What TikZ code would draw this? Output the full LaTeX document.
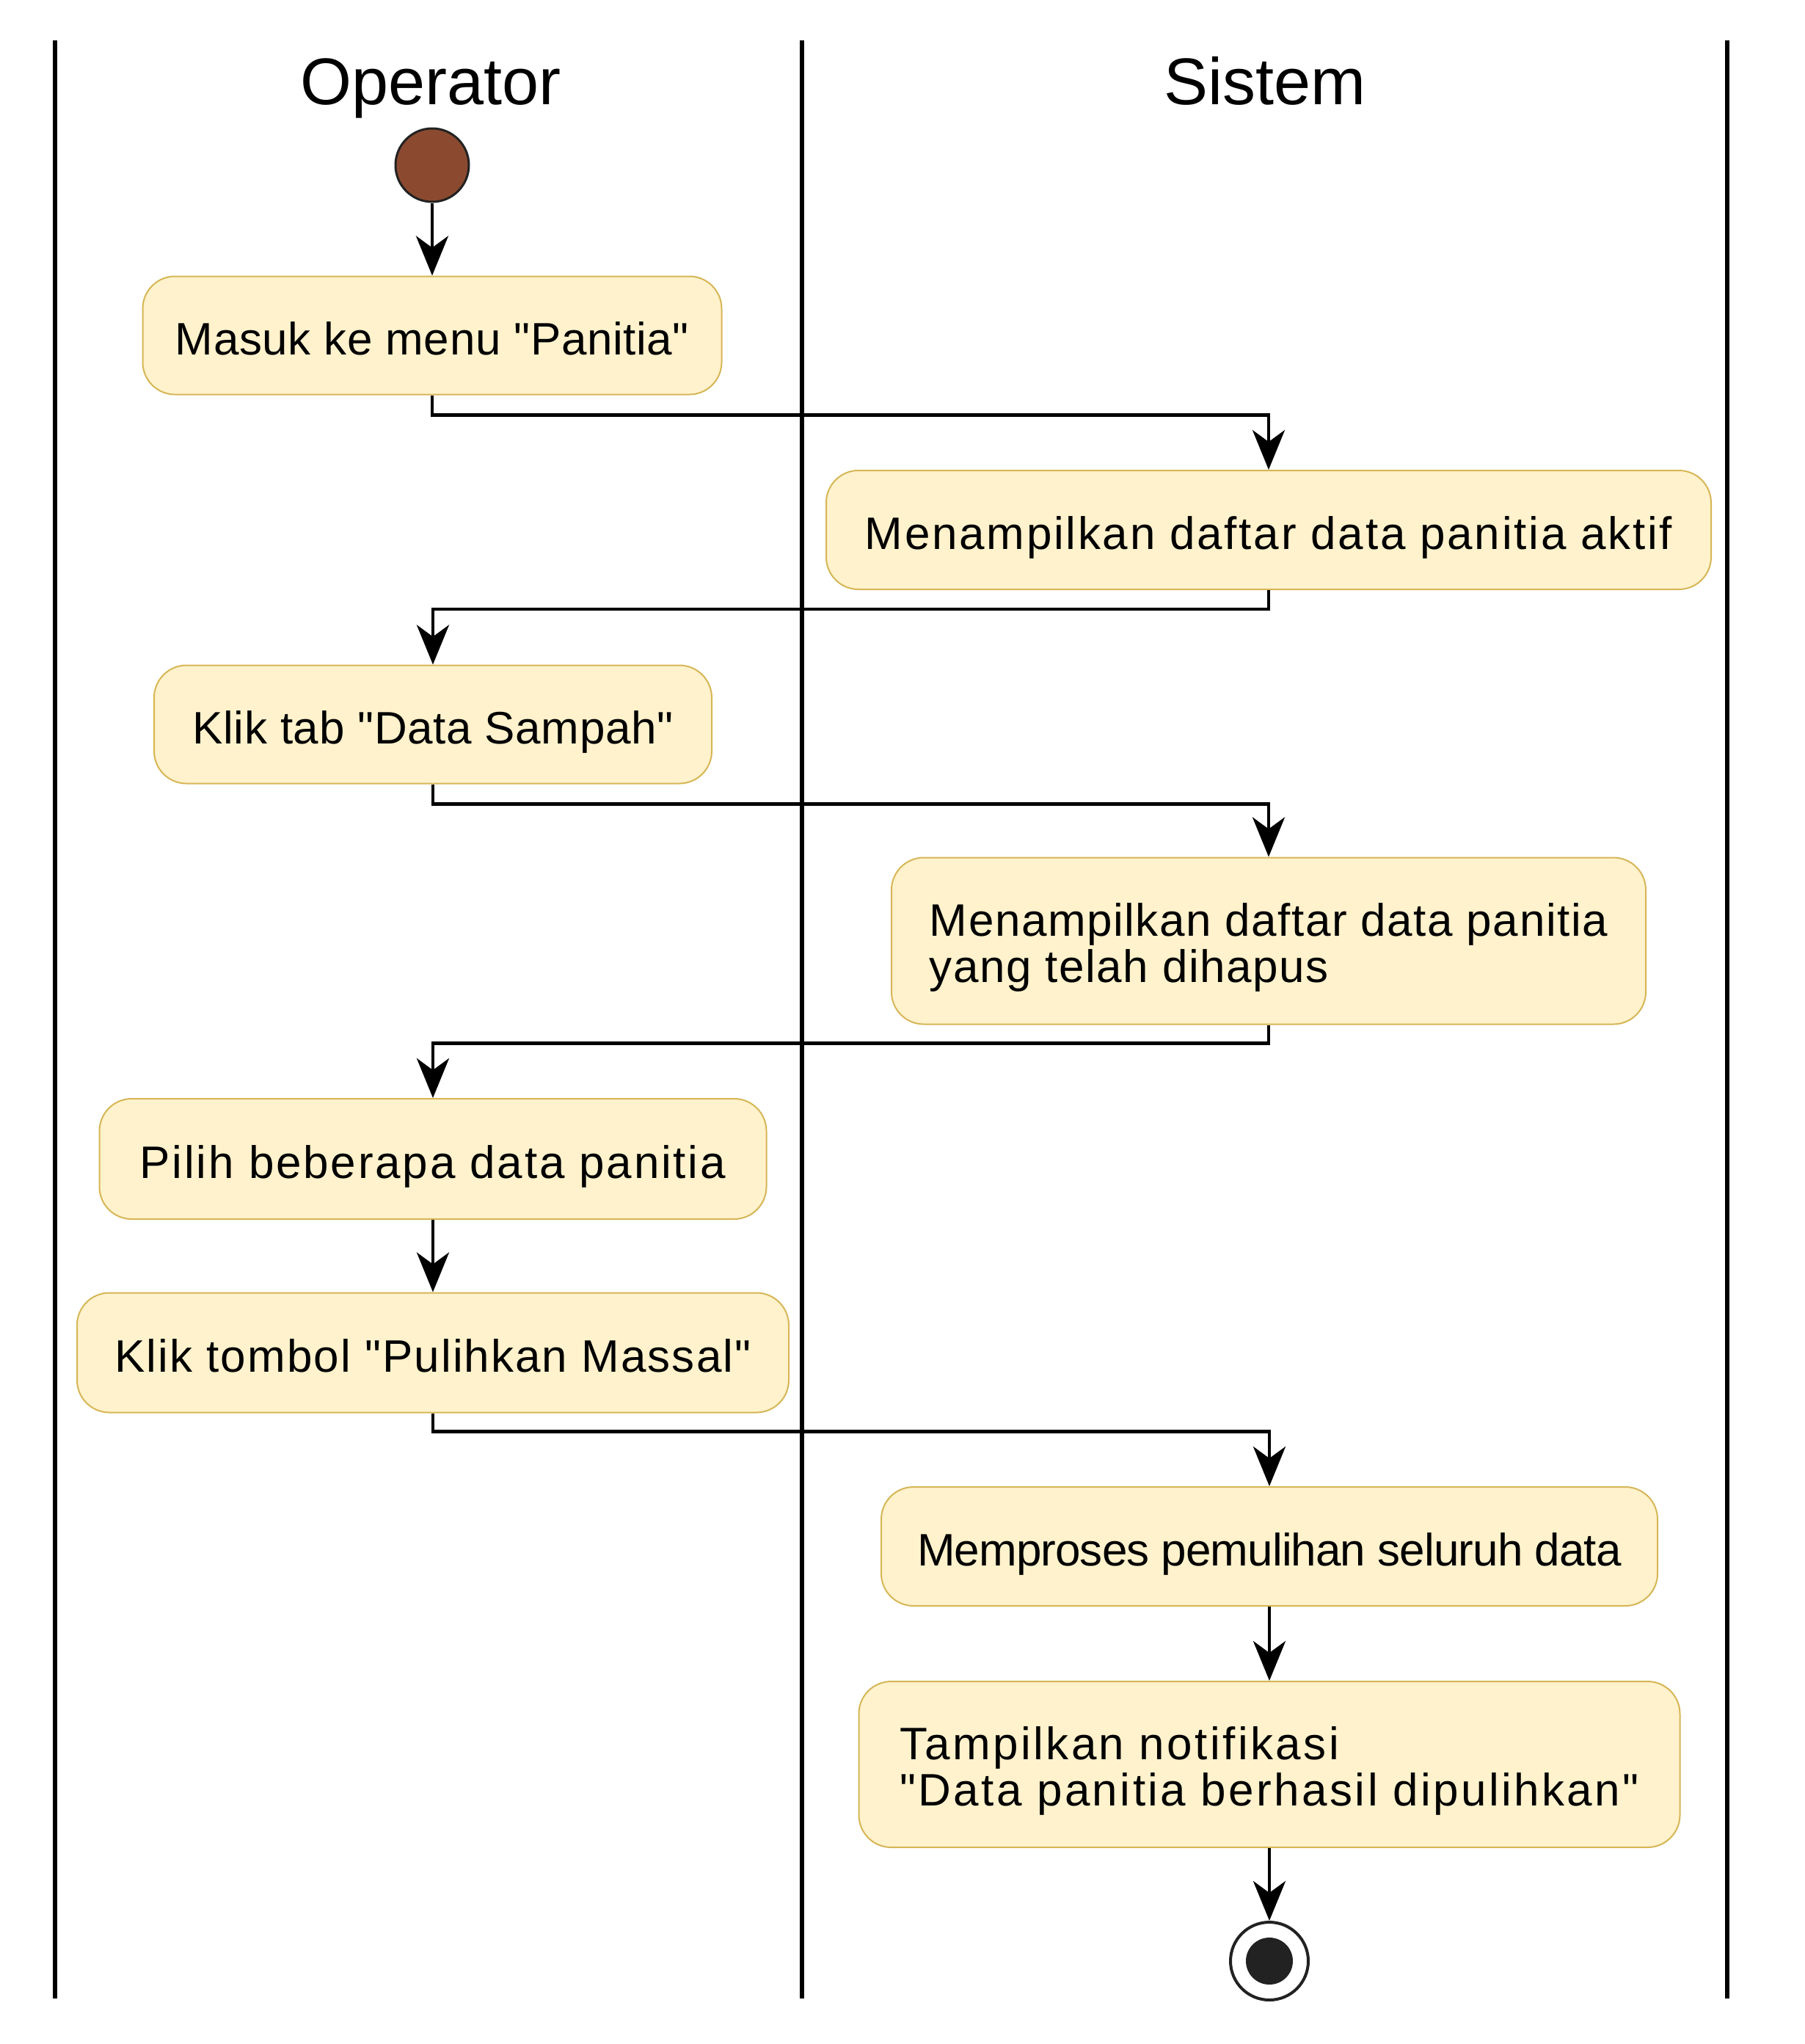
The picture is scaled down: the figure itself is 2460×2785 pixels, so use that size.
\documentclass[tikz,border=0pt]{standalone}
\usepackage{fontspec}
\setmainfont{Liberation Sans}[Ligatures=TeXOff]
\usetikzlibrary{arrows.meta}
\definecolor{actfill}{HTML}{FFF2CC}
\definecolor{actline}{HTML}{D6B656}
\definecolor{startfill}{HTML}{8B4A30}
\definecolor{dark}{HTML}{222222}
\newcommand{\lsp}[1]{\addfontfeature{LetterSpace=#1}}
\begin{document}
\begin{tikzpicture}[x=0.5pt,y=-0.5pt,
  lane/.style={line width=3pt},
  title/.style={font=\fontsize{45}{54}\selectfont},
  act/.style={rectangle,rounded corners=22pt,draw=actline,fill=actfill,
    line width=1pt,align=left,inner sep=0pt,text height=32pt,text depth=6pt,
    font=\fontsize{31}{31.5}\selectfont},
  twoline/.style={text height=62.5pt},
  flow/.style={line width=2.4pt,-{Stealth[length=27pt,width=22pt,inset=8pt]}}]
\useasboundingbox (0,0) rectangle (2460,2785);
% swimlanes
\draw [lane] (75,55) -- (75,2723);
\draw [lane] (1093,55) -- (1093,2723);
\draw [lane] (2354,55) -- (2354,2723);
\node [title,anchor=base] (operator) at (587,142) {Operator};
\node [title,anchor=base] (sistem) at (1724,142) {Sistem};
% start / stop
\node [circle,draw=dark,fill=startfill,line width=1.5pt,minimum size=50pt,inner sep=0pt] (start) at (589,225) {};
\node [circle,draw=dark,fill=white,line width=2pt,minimum size=53pt,inner sep=0pt] (stop) at (1730,2672) {};
\node [circle,fill=dark,minimum size=32pt,inner sep=0pt] (stopdot) at (1730,2672) {};
% activities
\node [act,minimum width=394.5pt,minimum height=80.5pt] (masuk) at (589,457) {\lsp{1}Masuk ke menu "Panitia"};
\node [act,minimum width=603pt,minimum height=81pt] (aktif) at (1729,722) {\lsp{4.4}Menampilkan daftar data panitia aktif};
\node [act,minimum width=380pt,minimum height=80.5pt] (tab) at (590,987) {\lsp{1}Klik tab "Data Sampah"};
\node [act,twoline,minimum width=514pt,minimum height=113.5pt] (dihapus) at (1729,1282) {\lsp{2.5}Menampilkan daftar data panitia\\\lsp{2.5}yang telah dihapus};
\node [act,minimum width=454.5pt,minimum height=82pt] (pilih) at (590,1579) {\lsp{4.5}Pilih beberapa data panitia};
\node [act,minimum width=485pt,minimum height=81.5pt] (tombol) at (590,1843) {\lsp{3.3}Klik tombol "Pulihkan Massal"};
\node [act,minimum width=529pt,minimum height=81pt] (proses) at (1730,2107) {\lsp{-1.5}Memproses pemulihan seluruh data};
\node [act,twoline,minimum width=559.5pt,minimum height=113pt] (notif) at (1730,2404) {\lsp{5.5}Tampilkan notifikasi\\\lsp{5.5}"Data panitia berhasil dipulihkan"};
% flows
\draw [flow] (start) -- (masuk);
\draw [flow] (masuk.south) -- ++(0,27) -| (aktif.north);
\draw [flow] (aktif.south) -- ++(0,26) -| (tab.north);
\draw [flow] (tab.south) -- ++(0,27) -| (dihapus.north);
\draw [flow] (dihapus.south) -- ++(0,25) -| (pilih.north);
\draw [flow] (pilih) -- (tombol);
\draw [flow] (tombol.south) -- ++(0,25) -| (proses.north);
\draw [flow] (proses) -- (notif);
\draw [flow] (notif) -- (stop);
\end{tikzpicture}
\end{document}
